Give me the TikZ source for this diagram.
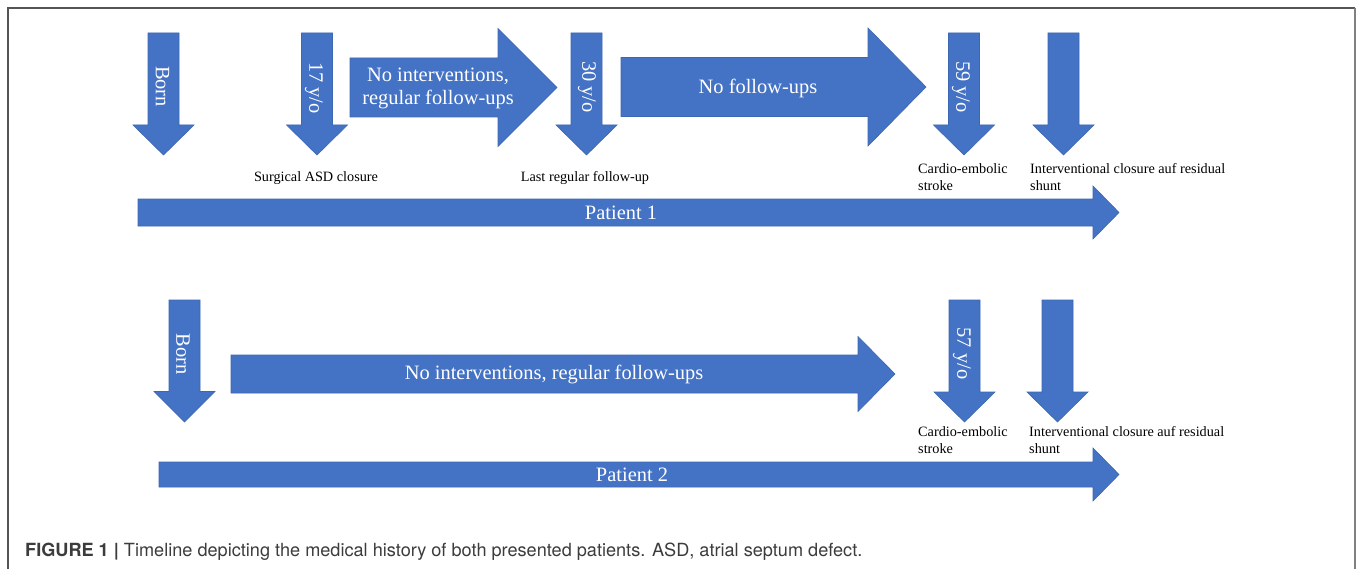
\documentclass[tikz,border=0pt]{standalone}
\usepackage{fontspec}
\setmainfont{Liberation Serif}
\newfontfamily\capfont{TeX Gyre Heros}
\definecolor{ablue}{HTML}{4472C4}
\definecolor{aedge}{HTML}{3D67B1}
\definecolor{framegray}{HTML}{555555}
\definecolor{framegrayR}{HTML}{808080}
\definecolor{captxt}{HTML}{3C3C3C}
\tikzset{
  blockarrow/.style={fill=ablue, draw=aedge, line width=0.6bp, line join=miter},
  bigtxt/.style={inner sep=0pt, text=white, font=\fontsize{20.5}{23.3}\selectfont},
  smalltxt/.style={inner sep=0pt, text=black, font=\fontsize{14.3}{17.3}\selectfont},
  frameline/.style={draw=framegray, line width=1.5bp},
}
% down block arrow: #1 centre x, #2 top, #3 head start, #4 tip
\newcommand\DArrow[4]{%
  \path[blockarrow] (#1-15.5,#2) -- (#1+15.5,#2) -- (#1+15.5,#3) -- (#1+30.5,#3)
    -- (#1,#4) -- (#1-30.5,#3) -- (#1-15.5,#3) -- cycle;}
% right block arrow: #1 left x, #2 head start x, #3 tip x, #4 centre y, #5 body half, #6 head half
\newcommand\RArrow[6]{%
  \path[blockarrow] (#1,#4-#5) -- (#2,#4-#5) -- (#2,#4-#6) -- (#3,#4)
    -- (#2,#4+#6) -- (#2,#4+#5) -- (#1,#4+#5) -- cycle;}
\begin{document}
\begin{tikzpicture}[x=1bp,y=-1bp]
\useasboundingbox (0,0) rectangle (1358,569);
\fill[white] (0,0) rectangle (1358,569);
% frame
\draw[frameline] (8,569) -- (8,8) -- (1355,8);
\draw[draw=framegrayR, line width=2bp] (1355,8) -- (1355,569);

% ---------------- Patient 1 ----------------
\DArrow{163.5}{33}{125}{155}
\DArrow{317}{33}{125}{155}
\DArrow{586.5}{33}{125}{155}
\DArrow{964}{33}{125}{155}
\DArrow{1063.5}{33}{125}{155}
\RArrow{350}{498}{557}{87.5}{29.5}{59}
\RArrow{621}{868}{926}{87}{29.5}{59}
\RArrow{138}{1093}{1119}{212.5}{13.5}{26.5}

\node[bigtxt, rotate=-90] (born1) at (162.5,86.5) {Born};
\node[bigtxt, rotate=-90] (age17) at (314,88) {17 y/o};
\node[bigtxt, rotate=-90] (age30) at (587,87) {30 y/o};
\node[bigtxt, rotate=-90] (age59) at (961,87) {59 y/o};
\node[bigtxt, align=center] (noint1) at (438,88.5) {No interventions,\\regular follow-ups};
\node[bigtxt] (nofu) at (758,88) {No follow-ups};
\node[bigtxt] (pat1) at (621,212.5) {Patient 1};

\node[smalltxt] (surg) at (316,178) {Surgical ASD closure};
\node[smalltxt] (lastfu) at (585,178) {Last regular follow-up};
\node[smalltxt, align=left, anchor=west] (stroke1) at (918,177) {Cardio-embolic\\stroke};
\node[smalltxt, align=left, anchor=west] (close1) at (1030,177) {Interventional closure auf residual\\shunt};

% ---------------- Patient 2 ----------------
\DArrow{184.5}{300}{391.5}{422}
\DArrow{964.5}{300}{392}{422}
\DArrow{1057.5}{300}{392}{422}
\RArrow{231}{858}{895}{374}{19}{37.5}
\RArrow{159}{1093}{1119}{474.5}{12.5}{26.5}

\node[bigtxt, rotate=-90] (born2) at (183,354) {Born};
\node[bigtxt, rotate=-90] (age57) at (962,353.5) {57 y/o};
\node[bigtxt] (noint2) at (554,375) {No interventions, regular follow-ups};
\node[bigtxt] (pat2) at (632,474.5) {Patient 2};

\node[smalltxt, align=left, anchor=west] (stroke2) at (918,440) {Cardio-embolic\\stroke};
\node[smalltxt, align=left, anchor=west] (close2) at (1029,440) {Interventional closure auf residual\\shunt};

% caption
\node[inner sep=0pt, anchor=base west, text=captxt, font=\capfont\fontsize{18.2}{21}\selectfont] (cap) at (25,556)
  {\textbf{FIGURE 1 |} Timeline depicting the medical history of both presented patients. ASD, atrial septum defect.};
\end{tikzpicture}
\end{document}
